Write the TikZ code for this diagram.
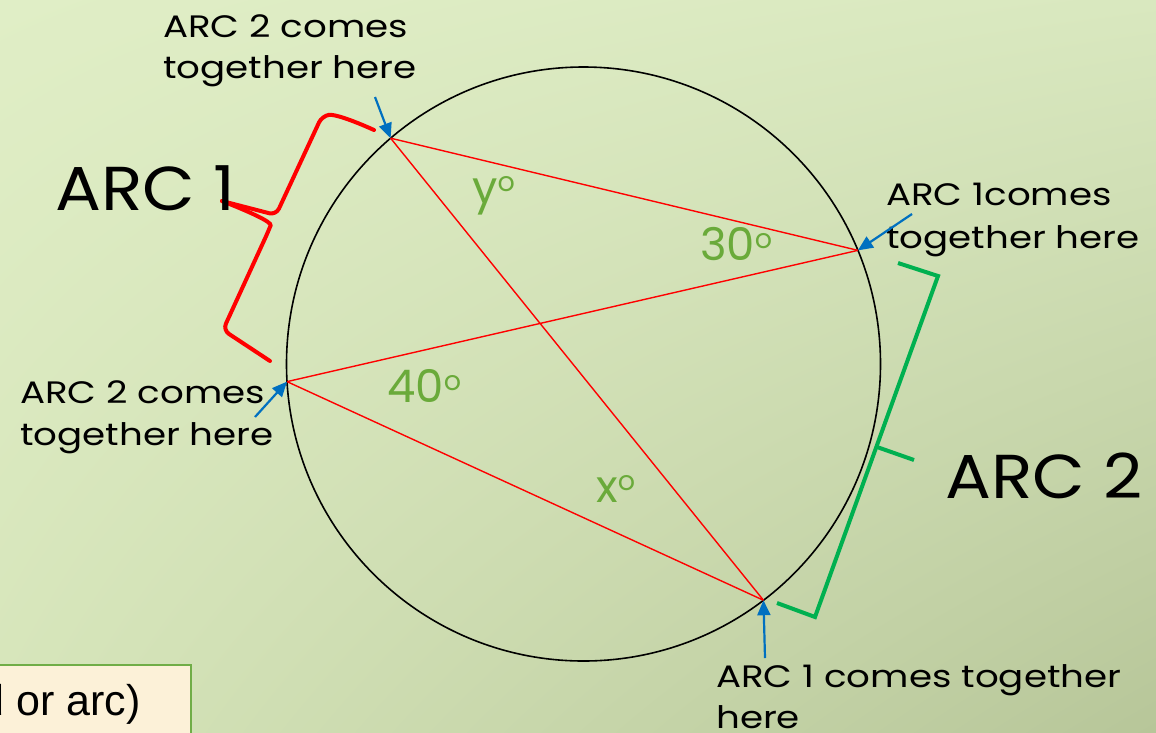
\documentclass[tikz,border=0pt]{standalone}
\usepackage{fontspec}
\setmainfont{Poppins}
\newfontfamily\smallfont{Poppins}[FakeStretch=1.2]
\newfontfamily\bigfont{Poppins}[FakeStretch=1.1]
\newfontfamily\arialfont{Liberation Sans}
\usetikzlibrary{arrows.meta,shadings,calc}
\definecolor{bgTL}{HTML}{E0EEC6}
\definecolor{bgTR}{HTML}{D9E8BF}
\definecolor{bgBL}{HTML}{D6E5BA}
\definecolor{bgBR}{HTML}{B7C699}
\definecolor{anggreen}{HTML}{6AAA3A}
\definecolor{brgreen}{HTML}{00B050}
\definecolor{arrblue}{HTML}{0070C0}
\definecolor{boxfill}{HTML}{FCF1D8}
\definecolor{boxline}{HTML}{70AD47}
\newcommand{\dego}{\raisebox{12pt}{\fontsize{27}{30}\selectfont o}}
\tikzset{
  x=1pt, y=1pt,
  chordline/.style={red, line width=1.4pt},
  circline/.style={black, line width=1.6pt},
  pointer/.style={arrblue, line width=2.2pt, -{Triangle[length=15pt,width=13pt]}},
  redbrace/.style={red, line width=4pt, rounded corners=7pt, line cap=round},
  greenbracket/.style={brgreen, line width=4pt},
  smalllabel/.style={inner sep=0pt, anchor=base west, font=\smallfont\fontsize{31}{42}\selectfont},
  biglabel/.style={inner sep=0pt, anchor=base west, font=\bigfont\fontsize{62}{70}\selectfont},
  anglabel/.style={inner sep=0pt, anchor=base west, text=anggreen, font=\fontsize{45}{50}\selectfont},
}
\begin{document}
\begin{tikzpicture}
\useasboundingbox (0,0) rectangle (1156,-732);
\shade[upper left=bgTL, upper right=bgTR, lower left=bgBL, lower right=bgBR] (0,0) rectangle (1156,-732);

% box bottom-left
\node[draw=boxline, fill=boxfill, line width=1.5pt, minimum width=210pt, minimum height=90pt, anchor=north west, inner sep=0pt] (box) at (-20,-664) {};
\node[inner sep=0pt, anchor=base east, font=\arialfont\fontsize{43}{50}\selectfont] (boxtext) at (141,-715) {d or arc)};

% circle
\coordinate (O) at (583.5,-364);
\node[circle, draw, circline, minimum size=594pt, inner sep=0pt] (circ) at (O) {};
\coordinate (A) at ($(O)+(130.5:297pt)$);
\coordinate (B) at ($(O)+(22.5:297pt)$);
\coordinate (C) at ($(O)+(183.4:297pt)$);
\coordinate (D) at ($(O)+(-52.7:297pt)$);

\draw[chordline] (A) -- (B);
\draw[chordline] (A) -- (D);
\draw[chordline] (C) -- (B);
\draw[chordline] (C) -- (D);

% angle labels
\node[anglabel] (ylab) at (472,-203) {y\dego};
\node[anglabel] (l30) at (700,-260) {30\dego};
\node[anglabel] (l40) at (387,-402) {40\dego};
\node[anglabel] (xlab) at (596,-502) {x\dego};

% red brace (arc 1)
\draw[redbrace] (374,-130) .. controls (352,-120) and (334,-114) .. (322,-116) -- (276,-215) -- (222,-201);
\draw[redbrace] (222,-201) .. controls (250,-212) and (272,-222) .. (268,-232) -- (223,-330) -- (270,-361);

% green bracket (arc 2)
\draw[greenbracket] (898,-263) -- (938,-276) -- (815,-617) -- (777,-603);
\draw[greenbracket] (877,-447) -- (914,-460);

% big labels
\node[biglabel] (arc1) at (55,-210) {ARC 1};
\node[biglabel] (arc2) at (945,-498) {ARC 2};

% small labels
\node[smalllabel] (t1a) at (163,-37) {ARC 2 comes};
\node[smalllabel] (t1b) at (163,-78) {together here};
\node[smalllabel] (t2a) at (886,-205) {ARC 1comes};
\node[smalllabel] (t2b) at (886,-248) {together here};
\node[smalllabel] (t3a) at (20,-403) {ARC 2 comes};
\node[smalllabel] (t3b) at (20,-445) {together here};
\node[smalllabel] (t4a) at (716,-687) {ARC 1 comes together};
\node[smalllabel] (t4b) at (716,-728) {here};

% pointers
\coordinate (p1) at (375,-97);
\coordinate (p2) at (912,-214);
\coordinate (p3) at (255,-417);
\coordinate (p4) at (765,-658);
\draw[pointer] (p1) -- (A);
\draw[pointer] (p2) -- (B);
\draw[pointer] (p3) -- (C);
\draw[pointer] (p4) -- (D);
\end{tikzpicture}
\end{document}
